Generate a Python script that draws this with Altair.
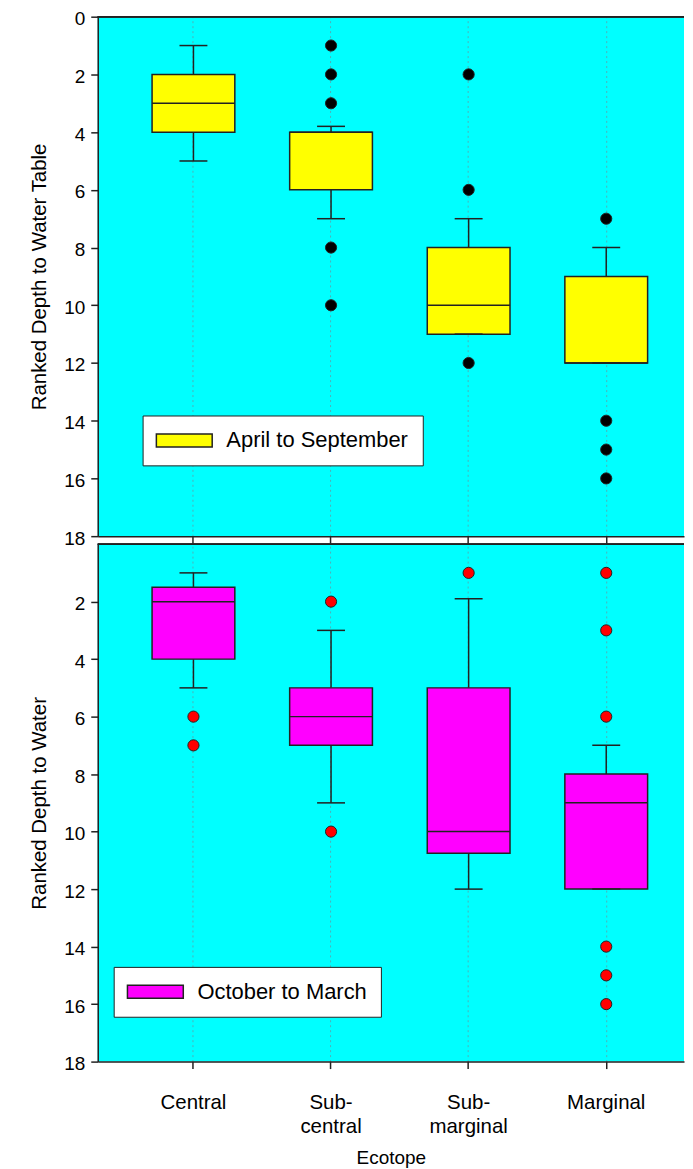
import altair as alt
import pandas as pd

categories = ["Central", "Sub-central", "Sub-marginal", "Marginal"]

# April to September (top panel)
as_whisker_top = [1, 3.8, 7, 8]
as_q1 = [2, 4, 8, 9]
as_median = [3, 4, 10, 12]
as_q3 = [4, 6, 11, 12]
as_whisker_bot = [5, 7, 11, 12]
as_out_cat = ["Sub-central"] * 5 + ["Sub-marginal"] * 3 + ["Marginal"] * 4
as_out_val = [1, 2, 3, 8, 10, 2, 6, 12, 7, 14, 15, 16]

# October to March (bottom panel)
om_whisker_top = [1, 3, 1.9, 7]
om_q1 = [1.5, 5, 5, 8]
om_median = [2, 6, 10, 9]
om_q3 = [4, 7, 10.75, 12]
om_whisker_bot = [5, 9, 12, 12]
om_out_cat = ["Central"] * 2 + ["Sub-central"] * 2 + ["Sub-marginal"] + ["Marginal"] * 6
om_out_val = [6, 7, 2, 10, 1, 1, 3, 6, 14, 15, 16]

y_ticks_top = [0, 2, 4, 6, 8, 10, 12, 14, 16, 18]
y_ticks_bottom = [2, 4, 6, 8, 10, 12, 14, 16, 18]

FONT = "Liberation Sans"
LINE = "#222222"
W = 588


def panel(period, color, wt, q1, med, q3, wb, oc, ov, out_color, height,
          yvals, ytitle, bottom, lx, ly):
    box_df = pd.DataFrame({"cat": categories, "wt": wt, "q1": q1, "med": med,
                           "q3": q3, "wb": wb, "period": period})
    out_df = pd.DataFrame({"cat": oc, "val": ov})
    # step 138 px, first category 96 px from the left edge
    xscale = alt.Scale(domain=categories, paddingInner=0, paddingOuter=0.1304,
                       align=0.75)
    yscale = alt.Scale(domain=[0, 18], reverse=True, nice=False, zero=False)
    if bottom:
        xaxis = alt.Axis(
            title="Ecotope", labelAngle=0, grid=True, bandPosition=0.5,
            labelExpr="indexof(datum.value, '-') > 0 ? [slice(datum.value, 0, indexof(datum.value, '-') + 1), slice(datum.value, indexof(datum.value, '-') + 1)] : datum.value",
            labelFontSize=20.5, labelBaseline="middle", labelPadding=34,
            labelLineHeight=24, titlePadding=12, titleFontSize=19)
    else:
        xaxis = alt.Axis(title=None, labels=False, grid=True, bandPosition=0.5)
    yaxis = alt.Axis(title=ytitle, values=yvals, grid=False, labelPadding=6,
                     titlePadding=14, labelBaseline="alphabetic", labelOffset=8)
    X = alt.X("cat:N", scale=xscale, axis=xaxis, sort=categories)

    def Y(f):
        return alt.Y(f, type="quantitative", scale=yscale, axis=yaxis)

    base = alt.Chart(box_df)
    border = base.mark_rule(color=LINE, strokeWidth=1.5).encode(y=alt.datum(0))
    r1 = base.mark_rule(color=LINE, strokeWidth=1.5).encode(x=X, y=Y("wt"), y2="q1")
    r2 = base.mark_rule(color=LINE, strokeWidth=1.5).encode(x=X, y=Y("q3"), y2="wb")
    box = base.mark_bar(size=83, stroke=LINE, strokeWidth=1.5, opacity=1).encode(
        x=X, y=Y("q1"), y2="q3",
        color=alt.Color("period:N",
                        scale=alt.Scale(domain=[period], range=[color]),
                        legend=alt.Legend(
                            title=None, orient="none", legendX=lx, legendY=ly,
                            fillColor="white", strokeColor=LINE, padding=14,
                            symbolType="M-1.6,-0.93L6.4,-0.93L6.4,0.93L-1.6,0.93Z",
                            symbolSize=196, symbolStrokeColor=LINE,
                            symbolStrokeWidth=1.5, symbolOpacity=1,
                            labelFontSize=22, labelFont=FONT, labelColor="black",
                            labelOffset=48, labelLimit=0)))
    medt = base.mark_tick(size=83, thickness=1.5, color=LINE, opacity=1).encode(x=X, y=Y("med"))
    c1 = base.mark_tick(size=28, thickness=1.5, color=LINE, opacity=1).encode(x=X, y=Y("wt"))
    c2 = base.mark_tick(size=28, thickness=1.5, color=LINE, opacity=1).encode(x=X, y=Y("wb"))
    pts = alt.Chart(out_df).mark_circle(size=125, color=out_color, stroke=LINE,
                                        strokeWidth=1, opacity=1).encode(x=X, y=Y("val"))
    return alt.layer(r1, r2, box, medt, c1, c2, pts, border).properties(width=W, height=height)


top = panel("April to September", "#FFFF00", as_whisker_top, as_q1, as_median,
            as_q3, as_whisker_bot, as_out_cat, as_out_val, "#000000", 521,
            y_ticks_top, "Ranked Depth to Water Table", False, 45, 400)
bottom = panel("October to March", "#FF00FF", om_whisker_top, om_q1, om_median,
               om_q3, om_whisker_bot, om_out_cat, om_out_val, "#FF0000", 519,
               y_ticks_bottom, "Ranked Depth to Water", True, 16, 424)

chart = alt.vconcat(top, bottom, spacing=8, bounds="flush").resolve_scale(
    color="independent"
).properties(
    padding={"left": 21, "top": 0, "right": 0, "bottom": 0}
).configure(font=FONT).configure_axis(
    labelColor="black", titleColor="black", domainColor=LINE, tickColor=LINE,
    domainWidth=1.5, tickWidth=1.5, tickSize=7, labelFontSize=19,
    titleFontSize=20.5, titleFontWeight="normal", labelFont=FONT, titleFont=FONT,
    gridColor="#6f8f99", gridDash=[2, 3], gridWidth=1, gridOpacity=0.7
).configure_view(fill="#00FFFF", stroke=None)

chart.save("out.html", embed_options={"renderer": "svg", "actions": False})
